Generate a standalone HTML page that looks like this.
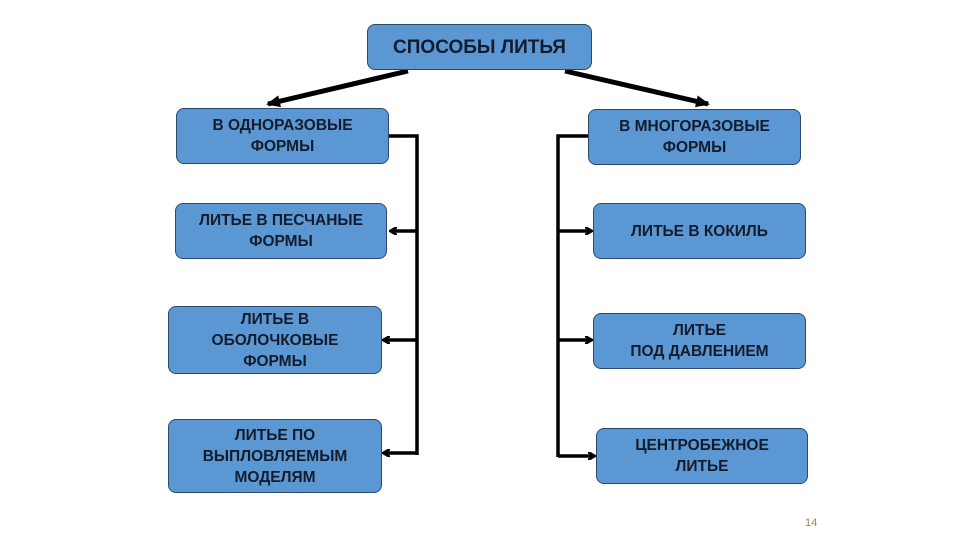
<!DOCTYPE html><html><head><meta charset="utf-8"><style>
body{margin:0;background:#fff;width:960px;height:540px;position:relative;overflow:hidden;font-family:"Liberation Sans",Arial,sans-serif}
.b{position:absolute;background:#5b97d3;border:1.5px solid #2b4a6b;border-radius:8px;box-sizing:border-box;display:flex;align-items:center;justify-content:center;text-align:center;font-weight:bold;font-size:15.5px;line-height:21px;color:#141c2c}
</style></head><body>
<svg width="960" height="540" style="position:absolute;left:0;top:0">
<defs><marker id="a" markerWidth="8" markerHeight="8" refX="6" refY="4" orient="auto" markerUnits="userSpaceOnUse"><path d="M0,0 L7,4 L0,8" fill="none" stroke="#000" stroke-width="2.5"/></marker>
<marker id="t" markerWidth="14" markerHeight="12" refX="12" refY="6" orient="auto" markerUnits="userSpaceOnUse"><path d="M0,0 L14,6 L0,12 z" fill="#000"/></marker></defs>
<g stroke="#000" stroke-width="3.5" fill="none">
<line x1="408" y1="71" x2="268" y2="104" marker-end="url(#t)" stroke-width="5"/>
<line x1="565" y1="71" x2="708" y2="104" marker-end="url(#t)" stroke-width="5"/>
<polyline points="389,136 417,136 417,455"/>
<line x1="417" y1="231" x2="391" y2="231" marker-end="url(#a)"/>
<line x1="417" y1="340" x2="384" y2="340" marker-end="url(#a)"/>
<line x1="417" y1="453" x2="384" y2="453" marker-end="url(#a)"/>
<polyline points="588,136 558,136 558,457"/>
<line x1="558" y1="231" x2="591" y2="231" marker-end="url(#a)"/>
<line x1="558" y1="340" x2="591" y2="340" marker-end="url(#a)"/>
<line x1="558" y1="456" x2="594" y2="456" marker-end="url(#a)"/>
</g></svg>
<div class="b" style="left:367px;top:24px;width:225px;height:46px;font-size:19px">СПОСОБЫ ЛИТЬЯ</div>
<div class="b" style="left:176px;top:108px;width:213px;height:56px">В ОДНОРАЗОВЫЕ<br>ФОРМЫ</div>
<div class="b" style="left:175px;top:203px;width:212px;height:56px">ЛИТЬЕ В ПЕСЧАНЫЕ<br>ФОРМЫ</div>
<div class="b" style="left:168px;top:306px;width:214px;height:68px">ЛИТЬЕ В<br>ОБОЛОЧКОВЫЕ<br>ФОРМЫ</div>
<div class="b" style="left:168px;top:419px;width:214px;height:74px">ЛИТЬЕ ПО<br>ВЫПЛОВЛЯЕМЫМ<br>МОДЕЛЯМ</div>
<div class="b" style="left:588px;top:109px;width:213px;height:56px">В МНОГОРАЗОВЫЕ<br>ФОРМЫ</div>
<div class="b" style="left:593px;top:203px;width:213px;height:56px">ЛИТЬЕ В КОКИЛЬ</div>
<div class="b" style="left:593px;top:313px;width:213px;height:56px">ЛИТЬЕ<br>ПОД ДАВЛЕНИЕМ</div>
<div class="b" style="left:596px;top:428px;width:212px;height:56px">ЦЕНТРОБЕЖНОЕ<br>ЛИТЬЕ</div>
<div style="position:absolute;left:805px;top:517px;font-size:11px;color:#a08050">14</div>
</body></html>
